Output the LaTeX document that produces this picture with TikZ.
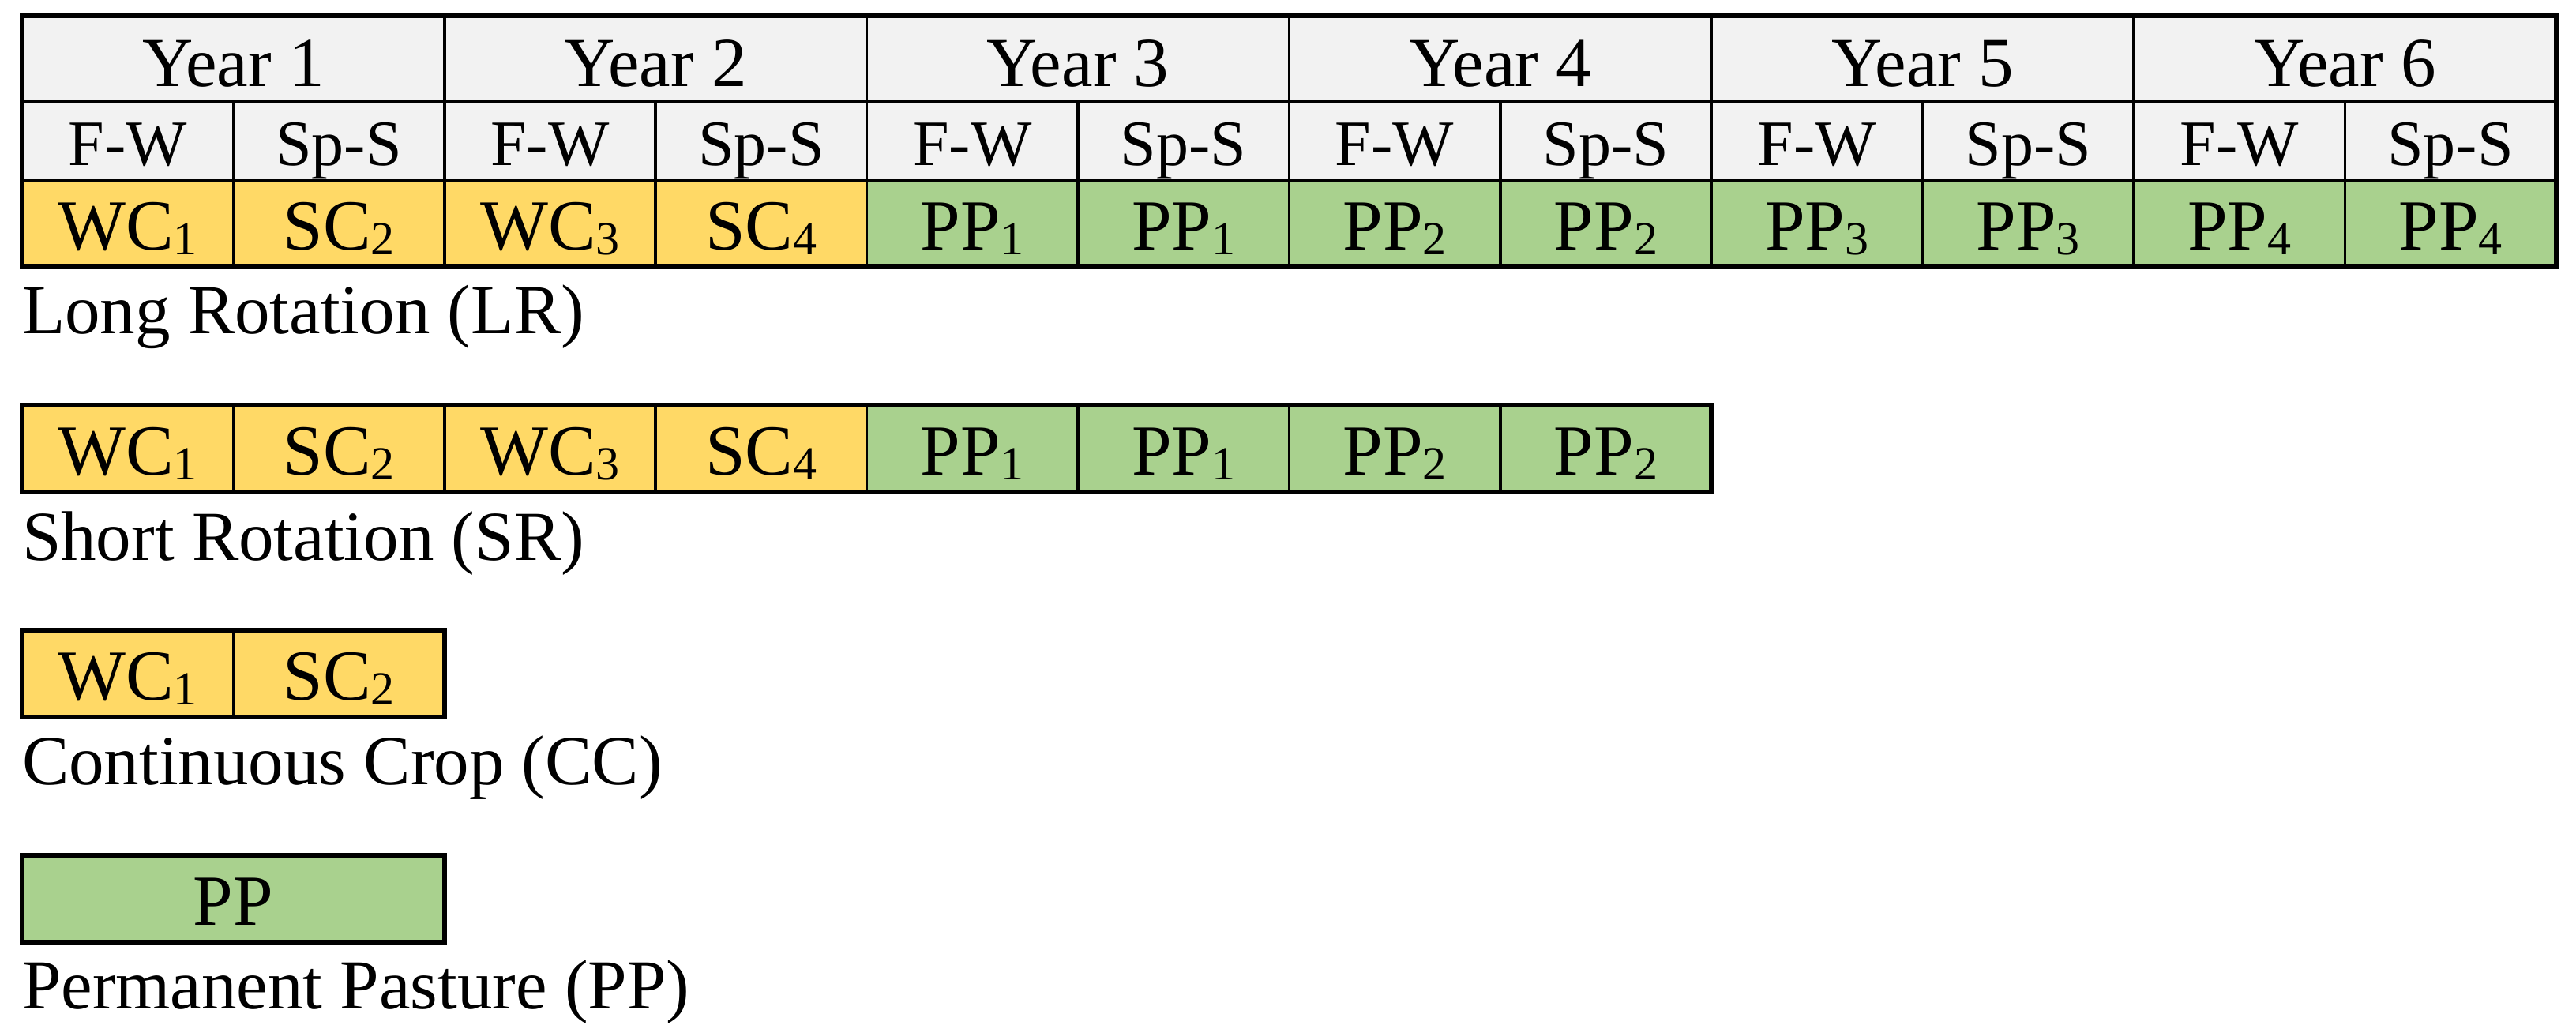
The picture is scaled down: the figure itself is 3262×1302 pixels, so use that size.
\documentclass[tikz,border=0pt]{standalone}
\usepackage{fontspec}
\setmainfont{Liberation Serif}
\definecolor{cropY}{HTML}{FFD966}
\definecolor{pastG}{HTML}{A9D18E}
\definecolor{headG}{HTML}{F2F2F2}
\newcommand\sbs[1]{\raisebox{-6pt}{\fontsize{60}{60}\selectfont #1}}
\begin{document}
\begin{tikzpicture}[x=1pt,y=-1pt,
  cellbox/.style={draw=black, line width=3.5pt, rectangle, inner sep=0pt, outer sep=0pt,
    minimum width=267.4pt, minimum height=108pt, text height=67pt, text depth=0pt,
    font=\fontsize{91}{100}\selectfont},
  crop/.style={cellbox, fill=cropY},
  past/.style={cellbox, fill=pastG},
  hdr/.style={cellbox, fill=headG},
  yr/.style={hdr, minimum width=534.8pt, text height=70pt, font=\fontsize{89}{100}\selectfont},
  subh/.style={hdr, minimum height=101pt, text height=61pt, font=\fontsize{82}{90}\selectfont},
  frame/.style={draw=black, line width=6pt},
  captxt/.style={anchor=base west, inner sep=0pt, outer sep=0pt, font=\fontsize{89}{100}\selectfont}]
\useasboundingbox (0,0) rectangle (3262,1302);
% Long rotation header
\foreach \i in {1,...,6}
  \node[yr] (lr-y\i) at ({28+534.8*(\i-0.5)},74) {Year \i};
\foreach \i/\t in {1/F-W,2/Sp-S,3/F-W,4/Sp-S,5/F-W,6/Sp-S,7/F-W,8/Sp-S,9/F-W,10/Sp-S,11/F-W,12/Sp-S}
  \node[subh] (lr-h\i) at ({28+267.4*(\i-0.5)},178.5) {\t};
\foreach \i/\t/\s in {1/WC\sbs{1}/crop,2/SC\sbs{2}/crop,3/WC\sbs{3}/crop,4/SC\sbs{4}/crop,
  5/PP\sbs{1}/past,6/PP\sbs{1}/past,7/PP\sbs{2}/past,8/PP\sbs{2}/past,
  9/PP\sbs{3}/past,10/PP\sbs{3}/past,11/PP\sbs{4}/past,12/PP\sbs{4}/past}
  \node[\s] (lr-d\i) at ({28+267.4*(\i-0.5)},283) {\t};
\draw[frame] (lr-y1.north west) rectangle (lr-d12.south east);
\node[captxt] (lr-cap) at (28,422) {Long Rotation (LR)};
% Short rotation
\foreach \i/\t/\s in {1/WC\sbs{1}/crop,2/SC\sbs{2}/crop,3/WC\sbs{3}/crop,4/SC\sbs{4}/crop,
  5/PP\sbs{1}/past,6/PP\sbs{1}/past,7/PP\sbs{2}/past,8/PP\sbs{2}/past}
  \node[\s, minimum height=110pt] (sr-d\i) at ({28+267.4*(\i-0.5)},568) {\t};
\draw[frame] (sr-d1.north west) rectangle (sr-d8.south east);
\node[captxt] (sr-cap) at (28,709) {Short Rotation (SR)};
% Continuous crop
\node[crop, minimum height=110pt] (cc-d1) at ({28+267.4*0.5},853) {WC\sbs{1}};
\node[crop, minimum height=110pt] (cc-d2) at ({28+267.4*1.5},853) {SC\sbs{2}};
\draw[frame] (cc-d1.north west) rectangle (cc-d2.south east);
\node[captxt] (cc-cap) at (28,993) {Continuous Crop (CC)};
% Permanent pasture
\node[past, minimum height=110pt, minimum width=534.8pt] (pp-d1) at ({28+267.4},1138) {PP};
\draw[frame] (pp-d1.north west) rectangle (pp-d1.south east);
\node[captxt] (pp-cap) at (28,1277) {Permanent Pasture (PP)};
\end{tikzpicture}
\end{document}
